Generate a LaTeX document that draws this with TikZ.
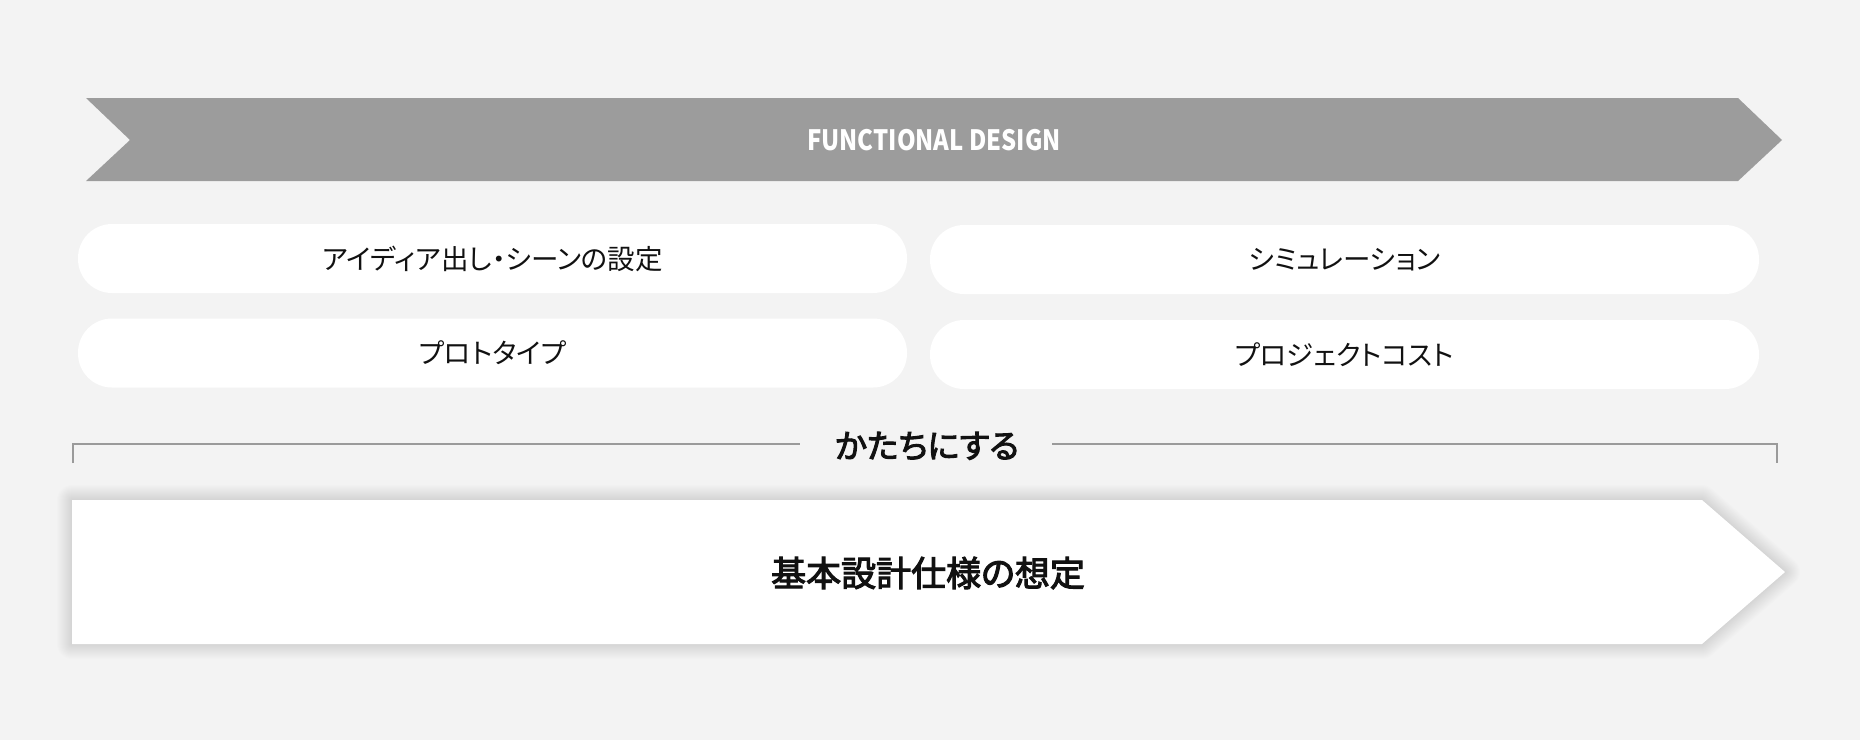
\documentclass[tikz,border=0pt]{standalone}
\usepackage{fontspec}
\usepackage{graphicx}
\setmainfont{Noto Sans CJK JP}[RawFeature=+palt]
\newfontfamily\jpmed{Noto Sans CJK JP}[RawFeature=+palt, FakeBold=3]
\definecolor{bg}{HTML}{F3F3F3}
\definecolor{arrowgray}{HTML}{9C9C9C}
\definecolor{linegray}{HTML}{9A9A9A}
\definecolor{ink}{HTML}{111111}
\tikzset{
  pill/.style={fill=white, draw=none, rounded corners=34pt, inner sep=0pt,
    minimum width=829pt, minimum height=69pt, text=ink,
    font=\fontsize{27.5}{30}\selectfont},
  bracketline/.style={draw=linegray, line width=2pt},
  bandtext/.style={text=white, font=\bfseries\fontsize{28}{30}\selectfont},
  shadowring/.style={draw=black, opacity=0.008, line join=round},
}
\newcommand{\bottomarrow}{(72,500) -- (1702,500) -- (1785,572) -- (1702,644) -- (72,644) -- cycle}
\begin{document}
\begin{tikzpicture}[x=1pt,y=-1pt]
\fill[bg] (0,0) rectangle (1860,740);
\useasboundingbox (0,0) rectangle (1860,740);
% top band
\fill[arrowgray] (86,98) -- (1738,98) -- (1782,140) -- (1738,181) -- (86,181) -- (130,140) -- cycle;
\node[bandtext] (fd) at (934,140) {\scalebox{0.85}[1]{FUNCTIONAL DESIGN}};
% pills
\node[pill] (p1) at (492.5,258.5) {アイディア出し・シーンの設定};
\node[pill] (p2) at (1344.5,259.5) {シミュレーション};
\node[pill] (p3) at (492.5,353) {プロトタイプ};
\node[pill] (p4) at (1344.5,354.5) {プロジェクトコスト};
% bracket
\node[text=ink, font=\jpmed\fontsize{33}{35}\selectfont] (kt) at (927,446) {かたちにする};
\coordinate (bl) at (73,463);
\coordinate (blt) at (73,444);
\coordinate (gl) at (800,444);
\coordinate (gr) at (1052,444);
\coordinate (brt) at (1777,444);
\coordinate (br) at (1777,463);
\draw[bracketline] (bl) -- (blt) -- (gl);
\draw[bracketline] (gr) -- (brt) -- (br);
% bottom arrow with soft shadow
\foreach \w in {2,4,...,30} {
  \draw[shadowring, line width=\w pt] \bottomarrow;
}
\fill[white] \bottomarrow;
\node[text=ink, font=\jpmed\fontsize{35}{38}\selectfont] (main) at (928,573) {基本設計仕様の想定};
\end{tikzpicture}
\end{document}
